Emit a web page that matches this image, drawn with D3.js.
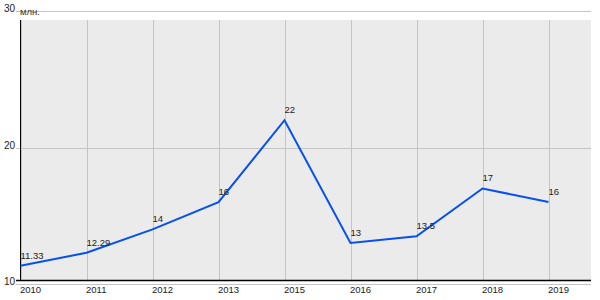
<!DOCTYPE html>
<html>
<head>
<meta charset="utf-8">
<script src="https://cdn.jsdelivr.net/npm/d3@7"></script>
<style>
  body { margin: 0; background: #fff; }
  text { font-family: "Liberation Sans", Arial, sans-serif; }
</style>
</head>
<body>
<div id="chart"></div>
<script>
(function () {

// data (no 2014 in the source)
const years = ["2010", "2011", "2012", "2013", "2015", "2016", "2017", "2018", "2019"];
const values = [11.33, 12.29, 14, 16, 22, 13, 13.5, 17, 16];
const valueLabels = ["11.33", "12.29", "14", "16", "22", "13", "13.5", "17", "16"];
const yTicks = [10, 20, 30];
const unitLabel = "млн.";

const width = 600, height = 300;
const plot = {left: 20, right: 591, top: 20, bottom: 280};

const svg = d3.select("#chart").append("svg")
    .attr("width", width)
    .attr("height", height);

const x = d3.scalePoint().domain(years).range([20.5, 548.5]);
const y = d3.scaleLinear().domain([10, 30]).range([284, 11]);

// grey plot background
svg.append("rect")
  .attr("x", plot.left)
  .attr("y", plot.top)
  .attr("width", plot.right - plot.left)
  .attr("height", plot.bottom - plot.top)
  .attr("fill", "#ebebeb");

// vertical grid lines
svg.selectAll(".vgrid")
  .data(years)
  .join("line")
  .attr("x1", d => Math.round(x(d)) + 0.5)
  .attr("x2", d => Math.round(x(d)) + 0.5)
  .attr("y1", plot.top)
  .attr("y2", plot.bottom)
  .attr("stroke", "#c4c4c4");

// horizontal grid lines with little ticks on the left
svg.selectAll(".hgrid")
  .data(yTicks)
  .join("line")
  .attr("x1", plot.left - 4)
  .attr("x2", plot.right)
  .attr("y1", d => Math.round(y(d)) + 0.5)
  .attr("y2", d => Math.round(y(d)) + 0.5)
  .attr("stroke", "#c4c4c4");

svg.selectAll(".ylab")
  .data(yTicks)
  .join("text")
  .attr("x", 15)
  .attr("y", d => y(d) + 1)
  .attr("text-anchor", "end")
  .attr("font-size", 10)
  .attr("fill", "#222")
  .text(d => d);

// axis lines
svg.append("line")
  .attr("x1", plot.left + 0.5).attr("x2", plot.left + 0.5)
  .attr("y1", plot.top).attr("y2", plot.bottom)
  .attr("stroke", "#000");
svg.append("line")
  .attr("x1", plot.left - 4).attr("x2", plot.right)
  .attr("y1", plot.bottom + 0.5).attr("y2", plot.bottom + 0.5)
  .attr("stroke", "#000")
  .attr("stroke-width", 1.5);

// year labels, left aligned on the grid line
svg.selectAll(".xlab")
  .data(years)
  .join("text")
  .attr("x", d => x(d) - 0.5)
  .attr("y", 293)
  .attr("font-size", 9.5)
  .attr("fill", "#222")
  .text(d => d);

// unit label at top
svg.append("text")
  .attr("x", 20)
  .attr("y", 15)
  .attr("font-size", 9.5)
  .attr("fill", "#333")
  .text(unitLabel);

// the line
const line = d3.line()
  .x((d, i) => x(years[i]))
  .y(d => y(d));

svg.append("path")
  .datum(values)
  .attr("d", line)
  .attr("fill", "none")
  .attr("stroke", "#0650ec")
  .attr("stroke-width", 2);

// value labels
svg.selectAll(".vlab")
  .data(values)
  .join("text")
  .attr("x", (d, i) => x(years[i]))
  .attr("y", d => y(d) - 7)
  .attr("font-size", 9.5)
  .attr("fill", "#222")
  .text((d, i) => valueLabels[i]);

})()
</script>
</body>
</html>
